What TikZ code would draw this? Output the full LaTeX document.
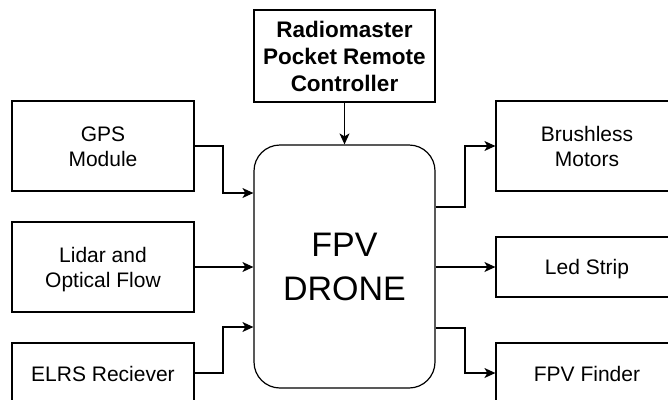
\documentclass[tikz,border=0pt]{standalone}
\usepackage{fontspec}
\setmainfont{Liberation Sans}
\usetikzlibrary{arrows.meta}
% one line of box text on a fixed strut, so every line box has the same height
\newcommand\boxline[1]{\rule[-4.25pt]{0pt}{24.5pt}#1}
\newcommand\titleline[1]{\rule[-5.5pt]{0pt}{27pt}#1}
\begin{document}
\begin{tikzpicture}[x=1pt,y=-1pt,
  box/.style={draw, line width=1.2pt, rectangle, inner sep=0pt, align=center,
    font=\fontsize{21}{24.5}\selectfont},
  bigbox/.style={box, minimum width=182pt, minimum height=90pt},
  slimbox/.style={box, minimum width=182pt, minimum height=60pt},
  hub/.style={draw, line width=1.2pt, rounded corners=26pt, inner sep=0pt,
    minimum width=181pt, minimum height=243pt, align=center,
    font=\fontsize{34}{44}\selectfont},
  arr/.style={line width=1.2pt, -{Stealth[length=11pt,width=10pt,inset=3pt]}}]
\useasboundingbox (0,0) rectangle (668,399);
\clip (0,0) rectangle (668,399);

% central block
\node[hub] (drone) at (344.5,266.5) {FPV\\DRONE};

% controller on top
\node[box, minimum width=181pt, minimum height=92pt, font=\bfseries\fontsize{22.5}{27}\selectfont]
  (radio) at (344.5,56) {\titleline{Radiomaster}\\\titleline{Pocket Remote}\\\titleline{Controller}};

% inputs
\node[bigbox] (gps) at (103,146) {\boxline{GPS}\\\boxline{Module}};
\node[bigbox] (lidar) at (103,267) {\boxline{Lidar and}\\\boxline{Optical Flow}};
\node[slimbox] (elrs) at (103,373) {\boxline{ELRS Reciever}};

% outputs
\node[bigbox] (motors) at (587,146) {\boxline{Brushless}\\\boxline{Motors}};
\node[slimbox] (led) at (587,267) {\boxline{Led Strip}};
\node[slimbox] (finder) at (587,373) {\boxline{FPV Finder}};

% connectors
\draw[arr] (radio.south) -- (drone.north);
\draw[arr] (gps.east) -- (223,146) |- (drone.west |- 0,193);
\draw[arr] (lidar.east) -- (drone.west |- lidar.east);
\draw[arr] (elrs.east) -- (223,373) |- (drone.west |- 0,327);

\draw[arr] (drone.east |- 0,207) -- (465,207) |- (motors.west);
\draw[arr] (drone.east |- led.west) -- (led.west);
\draw[arr] (drone.east |- 0,328) -- (465,328) |- (finder.west);
\end{tikzpicture}
\end{document}
